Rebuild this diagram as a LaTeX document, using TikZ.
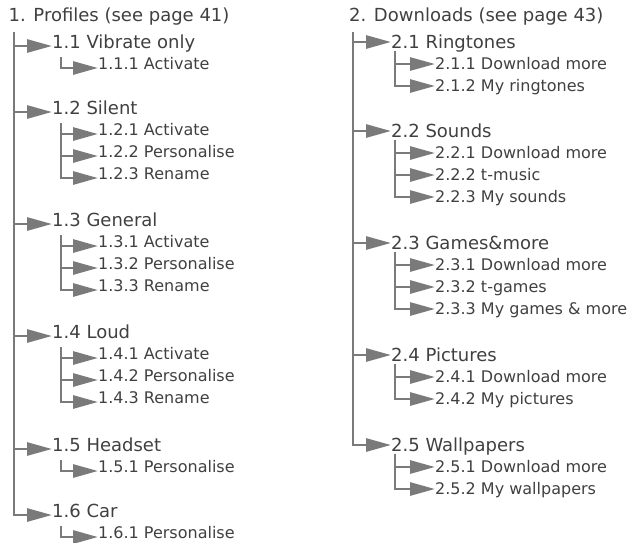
\documentclass[tikz,border=0pt]{standalone}
\usepackage{fontspec}
\setmainfont{DejaVu Sans}
\usetikzlibrary{arrows.meta}
\definecolor{menutext}{HTML}{404040}
\definecolor{menuline}{HTML}{7A7A7A}
\tikzset{
  ht/.style={anchor=west,inner sep=0pt,text=menutext,text height=13pt,text depth=0pt,font=\fontsize{18}{20}\selectfont},
  st/.style={anchor=west,inner sep=0pt,text=menutext,text height=11.6pt,text depth=0pt,font=\fontsize{16}{18}\selectfont},
  br/.style={draw=menuline,line width=2.8pt,-{Triangle[length=25pt,width=13pt]}}
}
\begin{document}
\begin{tikzpicture}[x=1pt,y=-1pt]
\path[use as bounding box] (0,0) rectangle (642,542);
% left column
\node[ht] (p0) at (8.5,15) {1. Profiles (see page 41)};
\node[ht] (p1) at (52,42) {1.1 Vibrate only};
\node[st] (p11) at (98,64) {1.1.1 Activate};
\node[ht] (p2) at (52,108) {1.2 Silent};
\node[st] (p21) at (98,130) {1.2.1 Activate};
\node[st] (p22) at (98,152) {1.2.2 Personalise};
\node[st] (p23) at (98,174) {1.2.3 Rename};
\node[ht] (p3) at (52,220) {1.3 General};
\node[st] (p31) at (98,242) {1.3.1 Activate};
\node[st] (p32) at (98,264) {1.3.2 Personalise};
\node[st] (p33) at (98,286) {1.3.3 Rename};
\node[ht] (p4) at (52,332) {1.4 Loud};
\node[st] (p41) at (98,354) {1.4.1 Activate};
\node[st] (p42) at (98,376) {1.4.2 Personalise};
\node[st] (p43) at (98,398) {1.4.3 Rename};
\node[ht] (p5) at (52,445) {1.5 Headset};
\node[st] (p51) at (98,467) {1.5.1 Personalise};
\node[ht] (p6) at (52,511) {1.6 Car};
\node[st] (p61) at (98,533) {1.6.1 Personalise};
\draw[br] ([xshift=5.5pt,yshift=-10.5pt]p0.south west) |- ([yshift=-4pt]p6.west);
\draw[br] ([xshift=5.5pt,yshift=-10.5pt]p0.south west) |- ([yshift=-4pt]p5.west);
\draw[br] ([xshift=5.5pt,yshift=-10.5pt]p0.south west) |- ([yshift=-4pt]p4.west);
\draw[br] ([xshift=5.5pt,yshift=-10.5pt]p0.south west) |- ([yshift=-4pt]p3.west);
\draw[br] ([xshift=5.5pt,yshift=-10.5pt]p0.south west) |- ([yshift=-4pt]p2.west);
\draw[br] ([xshift=5.5pt,yshift=-10.5pt]p0.south west) |- ([yshift=-4pt]p1.west);
\draw[br] ([xshift=9pt,yshift=-8.5pt]p1.south west) |- ([yshift=-4pt]p11.west);
\draw[br] ([xshift=9pt,yshift=-8.5pt]p2.south west) |- ([yshift=-4pt]p23.west);
\draw[br] ([xshift=9pt,yshift=-8.5pt]p2.south west) |- ([yshift=-4pt]p22.west);
\draw[br] ([xshift=9pt,yshift=-8.5pt]p2.south west) |- ([yshift=-4pt]p21.west);
\draw[br] ([xshift=9pt,yshift=-8.5pt]p3.south west) |- ([yshift=-4pt]p33.west);
\draw[br] ([xshift=9pt,yshift=-8.5pt]p3.south west) |- ([yshift=-4pt]p32.west);
\draw[br] ([xshift=9pt,yshift=-8.5pt]p3.south west) |- ([yshift=-4pt]p31.west);
\draw[br] ([xshift=9pt,yshift=-8.5pt]p4.south west) |- ([yshift=-4pt]p43.west);
\draw[br] ([xshift=9pt,yshift=-8.5pt]p4.south west) |- ([yshift=-4pt]p42.west);
\draw[br] ([xshift=9pt,yshift=-8.5pt]p4.south west) |- ([yshift=-4pt]p41.west);
\draw[br] ([xshift=9pt,yshift=-8.5pt]p5.south west) |- ([yshift=-4pt]p51.west);
\draw[br] ([xshift=9pt,yshift=-8.5pt]p6.south west) |- ([yshift=-4pt]p61.west);
% right column
\node[ht] (d0) at (349,15) {2. Downloads (see page 43)};
\node[ht] (d1) at (391,42) {2.1 Ringtones};
\node[st] (d11) at (435,64) {2.1.1 Download more};
\node[st] (d12) at (435,86) {2.1.2 My ringtones};
\node[ht] (d2) at (391,131) {2.2 Sounds};
\node[st] (d21) at (435,153) {2.2.1 Download more};
\node[st] (d22) at (435,175) {2.2.2 t-music};
\node[st] (d23) at (435,197) {2.2.3 My sounds};
\node[ht] (d3) at (391,243) {2.3 Games\&more};
\node[st] (d31) at (435,265) {2.3.1 Download more};
\node[st] (d32) at (435,287) {2.3.2 t-games};
\node[st] (d33) at (435,309) {2.3.3 My games \& more};
\node[ht] (d4) at (391,355) {2.4 Pictures};
\node[st] (d41) at (435,377) {2.4.1 Download more};
\node[st] (d42) at (435,399) {2.4.2 My pictures};
\node[ht] (d5) at (391,445) {2.5 Wallpapers};
\node[st] (d51) at (435,467) {2.5.1 Download more};
\node[st] (d52) at (435,489) {2.5.2 My wallpapers};
\draw[br] ([xshift=4pt,yshift=-10.5pt]d0.south west) |- (d5.west);
\draw[br] ([xshift=4pt,yshift=-10.5pt]d0.south west) |- (d4.west);
\draw[br] ([xshift=4pt,yshift=-10.5pt]d0.south west) |- (d3.west);
\draw[br] ([xshift=4pt,yshift=-10.5pt]d0.south west) |- (d2.west);
\draw[br] ([xshift=4pt,yshift=-10.5pt]d0.south west) |- (d1.west);
\draw[br] ([xshift=4pt,yshift=-2pt]d1.south west) |- (d12.west);
\draw[br] ([xshift=4pt,yshift=-2pt]d1.south west) |- (d11.west);
\draw[br] ([xshift=4pt,yshift=-2pt]d2.south west) |- (d23.west);
\draw[br] ([xshift=4pt,yshift=-2pt]d2.south west) |- (d22.west);
\draw[br] ([xshift=4pt,yshift=-2pt]d2.south west) |- (d21.west);
\draw[br] ([xshift=4pt,yshift=-2pt]d3.south west) |- (d33.west);
\draw[br] ([xshift=4pt,yshift=-2pt]d3.south west) |- (d32.west);
\draw[br] ([xshift=4pt,yshift=-2pt]d3.south west) |- (d31.west);
\draw[br] ([xshift=4pt,yshift=-2pt]d4.south west) |- (d42.west);
\draw[br] ([xshift=4pt,yshift=-2pt]d4.south west) |- (d41.west);
\draw[br] ([xshift=4pt,yshift=-2pt]d5.south west) |- (d52.west);
\draw[br] ([xshift=4pt,yshift=-2pt]d5.south west) |- (d51.west);
\end{tikzpicture}
\end{document}
